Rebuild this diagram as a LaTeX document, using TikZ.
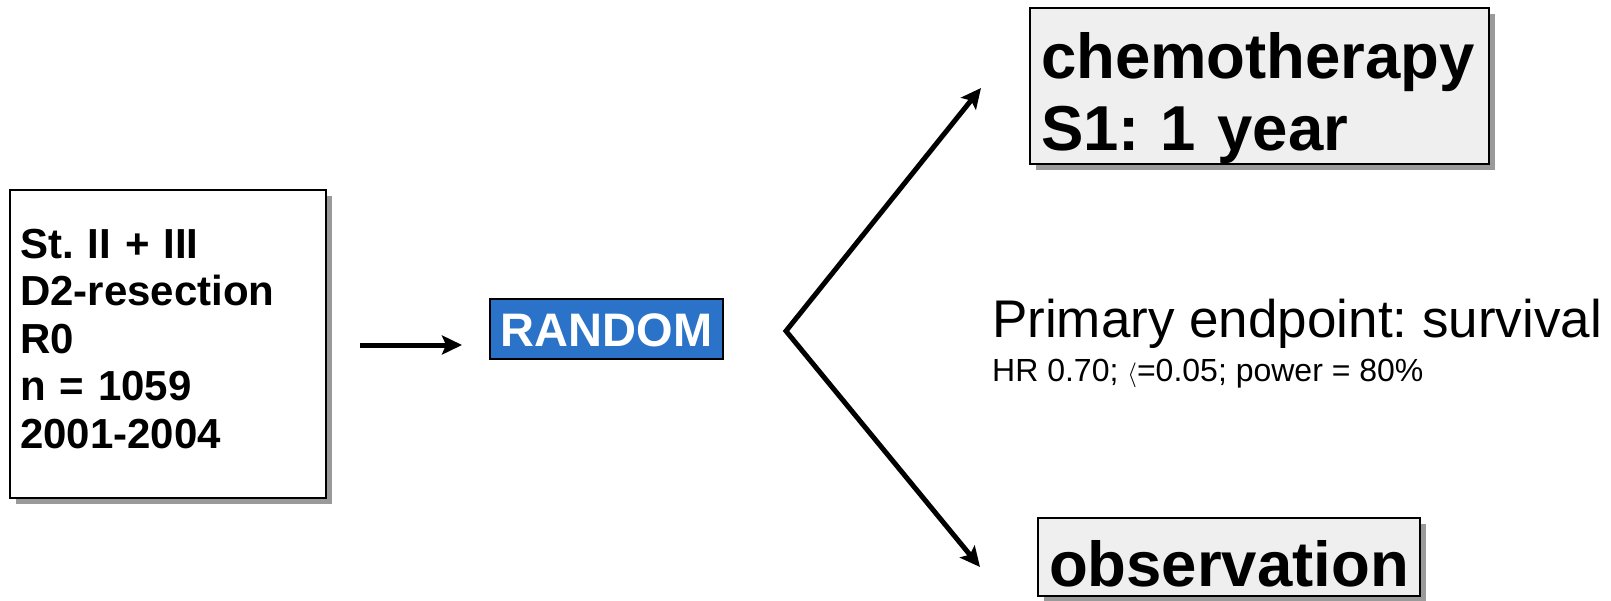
\documentclass[tikz,border=0pt]{standalone}
\usepackage{fontspec}
\setmainfont{Liberation Sans}
\usetikzlibrary{arrows.meta,shadows,calc}
\definecolor{randblue}{HTML}{2B73C9}
\definecolor{boxgray}{HTML}{EFEFEF}
\definecolor{shadowgray}{HTML}{9A9A9A}
\frenchspacing
\begin{document}
\frenchspacing
\begin{tikzpicture}[x=1pt,y=-1pt,
  framebox/.style={draw=black, line width=2pt, outer sep=0pt, inner ysep=0pt,
    drop shadow={shadow xshift=6pt, shadow yshift=-6pt, fill=shadowgray, opacity=1}},
  arr/.style={line width=5pt, -{Stealth[length=20pt,width=19pt,inset=4pt]}},
  fork/.style={line width=5pt, line join=miter,
    {Stealth[length=20pt,width=19pt,inset=4pt]}-{Stealth[length=20pt,width=19pt,inset=4pt]}},
]
\useasboundingbox (0,0) rectangle (1611,600);

\node[framebox, fill=white, anchor=north west, inner xsep=10pt, text width=296pt,
  align=left, text height=68pt, text depth=240pt,
  font=\fontsize{42}{47.5}\selectfont\bfseries\frenchspacing] (pat) at (10,190)
  {St. II + III\\D2-resection\\R0\\n = 1059\\2001-2004};

\node[draw=black, line width=2pt, fill=randblue, text=white, anchor=north west,
  outer sep=0pt, minimum width=233pt, inner sep=0pt, text height=47pt, text depth=13pt,
  font=\fontsize{47}{52}\selectfont\bfseries] (rand) at (490,299) {RANDOM};

\node[framebox, fill=boxgray, anchor=north west, inner xsep=11pt, text width=437pt,
  align=left, text height=70pt, text depth=86pt,
  font=\fontsize{63.5}{72}\selectfont\bfseries\frenchspacing] (chemo) at (1030,8)
  {chemotherapy\\S1: 1 year};

\node[framebox, fill=boxgray, anchor=north west, minimum width=382pt, inner xsep=0pt,
  text height=68pt, text depth=10pt,
  font=\fontsize{63.5}{72}\selectfont\bfseries] (obs) at (1038,518) {observation};

\node[anchor=base west, inner sep=0pt, font=\fontsize{53}{60}\selectfont\frenchspacing] (prim)
  at (992,337) {Primary endpoint: survival};
\node[anchor=base west, inner sep=0pt, font=\fontsize{32}{36}\selectfont\frenchspacing] (hr)
  at (992,381) {HR 0.70; $\langle$=0.05; power = 80\%};

\draw[arr] ([shift={(34,1)}]pat.east) -- ([shift={(-28,16)}]rand.west);

\coordinate (forkpt) at ([shift={(63,2)}]rand.east);
\draw[fork] ([shift={(-49,2)}]chemo.west) -- (forkpt) -- ([shift={(-58,10)}]obs.west);
\end{tikzpicture}
\end{document}
